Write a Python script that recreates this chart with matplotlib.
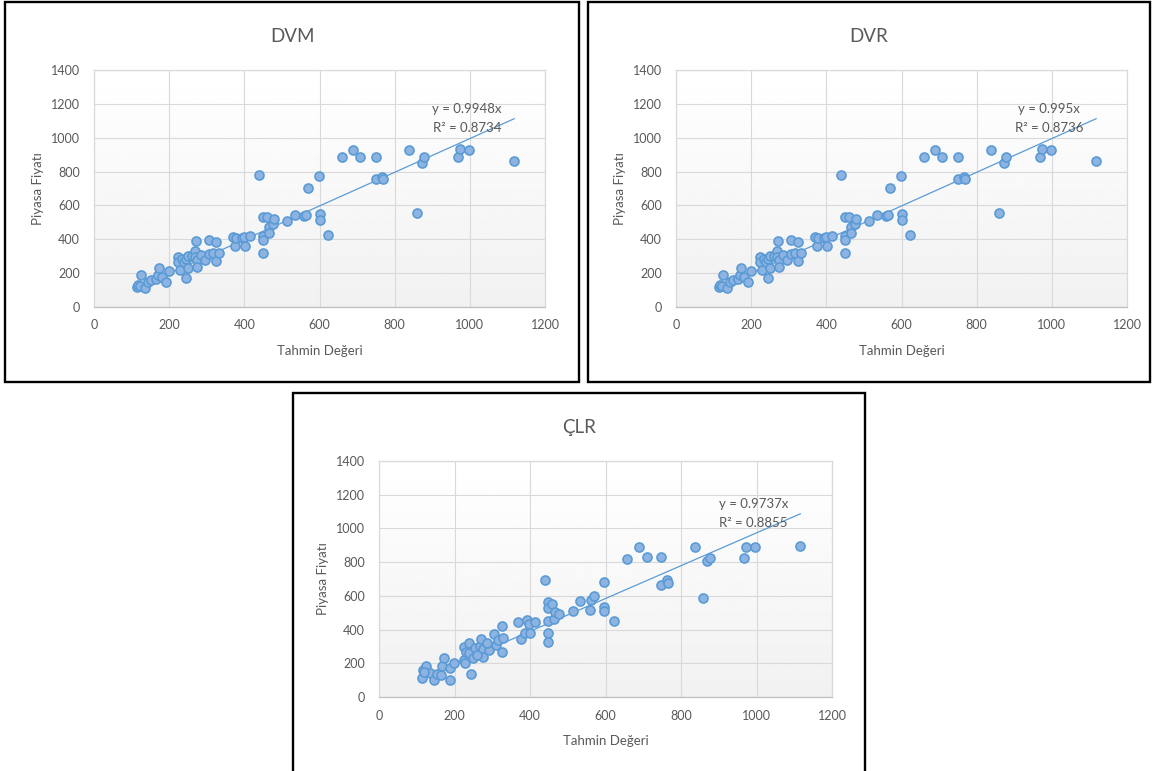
import numpy as np
import matplotlib
matplotlib.use("Agg")
import matplotlib.pyplot as plt
from matplotlib.patches import Rectangle

plt.rcParams['font.family']=['Lato','DejaVu Sans']

# DVM panel
dvm_x=[115,118,122,126,136,145,152,164,171,174,180,191,200,
       224,224,229,233,240,246,246,251,251,262,270,270,275,275,285,296,305,307,317,325,325,332,271,
       370,376,377,393,400,401,415,
       440,449,450,450,450,460,466,466,477,478,
       514,535,560,565,570,599,600,600,623,
       659,690,709,750,750,766,769,839,860,874,878,969,974,998,1118]
dvm_y=[120,130,124,189,114,150,159,163,189,232,180,150,213,
       297,268,219,281,268,282,169,303,229,300,333,297,278,234,310,278,394,311,321,386,270,321,390,
       416,360,410,406,416,360,421,
       780,533,421,394,317,533,474,439,490,518,
       510,543,540,545,701,774,548,512,425,
       888,927,888,888,754,770,754,927,553,852,888,888,931,927,864]
dvm_slope=0.9948
dvm_r2=0.8734

# DVR panel (reads the same as DVM)
dvr_x=list(dvm_x)
dvr_y=list(dvm_y)
dvr_slope=0.995
dvr_r2=0.8736

# ÇLR panel
clr_x=[114,116,125,134,147,153,165,168,173,187,189,199,120,
       224,225,229,231,239,239,243,250,253,268,270,275,275,292,304,310,315,325,325,328,260,285,
       369,375,386,393,398,400,413,
       439,447,447,447,447,447,457,464,465,478,
       514,532,558,562,569,597,597,597,622,
       658,688,709,746,746,763,766,837,857,870,878,966,971,997,1116]
clr_y=[112,161,181,145,102,137,132,181,230,102,171,204,150,
       220,299,200,269,319,260,137,230,289,305,344,283,240,279,372,309,338,421,265,352,250,320,
       446,342,378,456,431,378,446,
       692,562,529,450,378,324,549,460,505,491,
       511,572,515,578,599,682,535,509,452,
       818,887,828,828,664,696,676,887,586,806,824,824,891,887,897]
clr_slope=0.9737
clr_r2=0.8855

titles=["DVM","DVR","ÇLR"]
x_label="Tahmin Değeri"
y_label="Piyasa Fiyatı"

gray="#595959"
grid_c="#d9d9d9"
face="#8db3e2"
edge="#5b9bd5"

W=1152
H=771

fig=plt.figure(figsize=(W/100,H/100),dpi=100)

def fx(px):
    return px/W

def fy(py):
    return 1-py/H

def draw_chart(frame,box,title,xs,ys,slope,r2,eq_y):
    # black frame round the chart
    fig.patches.append(Rectangle((fx(frame[0]),fy(frame[3])),(frame[2]-frame[0])/W,(frame[3]-frame[1])/H,
                                 transform=fig.transFigure,fill=False,ec="black",lw=1.7,zorder=0))

    ax=fig.add_axes([fx(box[0]),fy(box[3]),(box[2]-box[0])/W,(box[3]-box[1])/H])

    # plot area gradient, white at the top, light gray at the bottom
    grad=np.linspace(0.945,1,100).reshape(-1,1)
    ax.imshow(grad,extent=[0,1,0,1],transform=ax.transAxes,cmap="gray",vmin=0,vmax=1,
              aspect="auto",origin="lower",zorder=0)

    line_x=np.array([min(xs),max(xs)])
    ax.plot(line_x,slope*line_x,color=edge,lw=0.9,zorder=2)
    ax.scatter(xs,ys,s=42,c=face,edgecolors=edge,linewidths=1.2,zorder=3)

    ax.text(992,eq_y[0],"y = "+str(slope)+"x",ha="center",va="center",fontsize=9.5,color=gray,zorder=4)
    ax.text(992,eq_y[1],"R² = "+str(r2),ha="center",va="center",fontsize=9.5,color=gray,zorder=4)

    ax.set_xlim(0,1200)
    ax.set_ylim(0,1400)
    ax.set_xticks(range(0,1201,200))
    ax.set_yticks(range(0,1401,200))
    ax.grid(color=grid_c,lw=0.8,zorder=1)
    ax.set_axisbelow(True)
    ax.tick_params(length=0,labelsize=9,labelcolor=gray)
    ax.tick_params(axis="y",pad=10)
    ax.tick_params(axis="x",pad=9)
    for s in ax.spines.values():
        s.set_color(grid_c)
        s.set_linewidth(0.9)
    ax.spines["bottom"].set_color("#bfbfbf")

    mid_x=(frame[0]+frame[2])/2
    fig.text(fx(mid_x),fy(frame[1]+34),title,ha="center",va="center",fontsize=13.5,color=gray)
    fig.text(fx((box[0]+box[2])/2),fy(box[3]+44),x_label,ha="center",va="center",fontsize=9.5,color=gray)
    fig.text(fx(box[0]-56),fy((box[1]+box[3])/2),y_label,ha="center",va="center",rotation=90,
             fontsize=9.5,color=gray)

draw_chart((5,2,579,382),(94,70,545,307),titles[0],dvm_x,dvm_y,dvm_slope,dvm_r2,(1168,1055))
draw_chart((588,2,1150,382),(676,70,1127,307),titles[1],dvr_x,dvr_y,dvr_slope,dvr_r2,(1168,1055))
draw_chart((293,393,865,775),(379,461,832,697),titles[2],clr_x,clr_y,clr_slope,clr_r2,(1145,1030))

fig.savefig("out.png",dpi=100)
